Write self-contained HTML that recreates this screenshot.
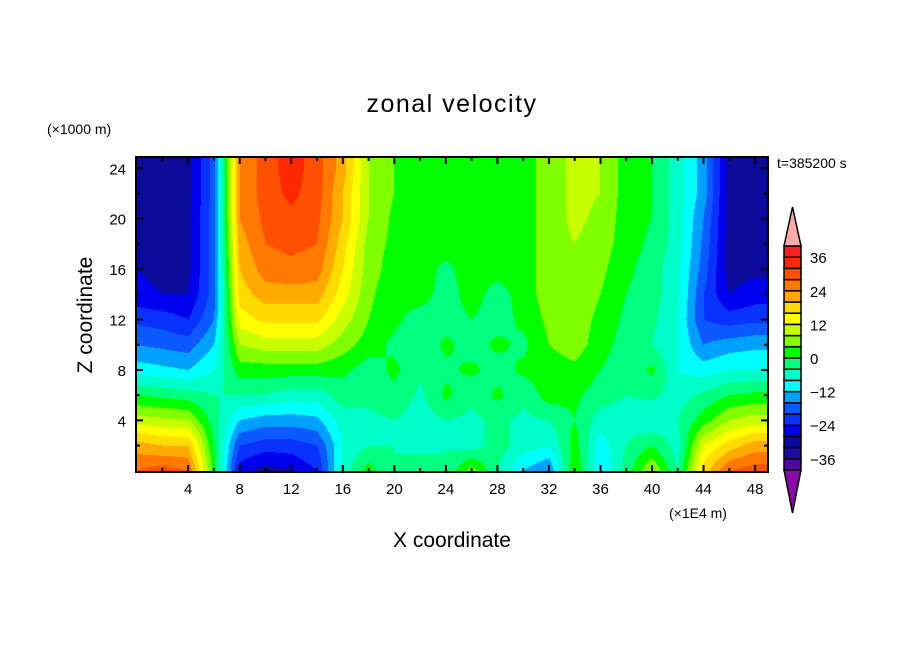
<!DOCTYPE html>
<html><head><meta charset="utf-8"><style>
body{margin:0;background:#fff;width:904px;height:654px;overflow:hidden;font-family:"Liberation Sans",sans-serif}
svg text{font-family:"Liberation Sans",sans-serif}
</style></head><body>
<svg id="chart" width="904" height="654" xmlns="http://www.w3.org/2000/svg">
<foreignObject x="136" y="157" width="632" height="315"><canvas id="cv" xmlns="http://www.w3.org/1999/xhtml" width="632" height="315"></canvas></foreignObject>
<g id="axes"></g>
</svg>
<script>
const xCoords=[0,2,4,6,8,10,12,14,16,18,20,22,24,26,28,30,32,34,36,38,40,42,44,46,48,50];
const zCoords=[24,22,20,18,16,14,12,10,8,6,4,2,0];
const grid=[
[-30,-32,-30,-18,24,30,34,30,22,8,4,2,2,2,2,2,6,9,8,2,0,-6,-14,-30,-30,-30],
[-30,-31,-30,-18,24,30,33,30,20,8,4,2,2,2,2,2,6,9,8,2,0,-6,-14,-30,-30,-30],
[-29,-30,-29,-18,24,29,31,29,20,8,3,2,2,2,2,2,6,9,7,2,0,-6,-16,-30,-30,-30],
[-29,-30,-29,-18,22,28,29,28,18,6,3,2,2,2,2,2,6,8,6,2,-1,-6,-17,-30,-30,-30],
[-28,-29,-29,-18,20,26,27,26,16,6,2,2,-1,2,2,2,6,8,5,1,-2,-7,-18,-30,-29,-29],
[-27,-28,-28,-18,18,22,22,22,14,5,1,2,-2,2,-2,2,6,7,4,0,-2,-7,-20,-28,-26,-26],
[-21,-22,-24,-16,14,17,17,17,10,4,1,-2,-2,0,-2,1,5,6,3,-1,-3,-8,-20,-22,-21,-21],
[-16,-17,-18,-12,8,10,10,10,6,2,-1,-3,1,-2,1,-1,4,6,2,-2,-4,-8,-16,-14,-13,-13],
[-10,-11,-12,-8,2,2,2,2,1,-2,1,-3,-1,1,-2,1,2,3,0,-3,1,-8,-10,-8,-8,-8],
[0,-1,-2,-4,-4,-4,-6,-6,-2,-3,-1,-5,1,-3,1,-3,2,1,-2,-4,-3,-6,-3,0,1,1],
[10,9,8,-2,-12,-14,-14,-13,-6,-5,-4,-6,-4,-5,-3,-5,-4,0,-6,-6,-8,-4,2,8,10,10],
[22,20,20,0,-20,-22,-22,-20,-8,-4,-4,-6,-4,-6,-2,-6,-8,2,-10,-4,0,-6,12,18,22,22],
[28,30,28,2,-26,-30,-28,-24,-6,2,-4,0,-4,6,-4,-12,-16,4,-12,-2,8,-4,18,28,30,30]];
const levels=[-40,-36,-32,-28,-24,-20,-16,-12,-8,-4,0,4,8,12,16,20,24,28,32,36,40];
const colors=["#4b0aa0","#1e0aa0","#0a0a9b","#0000f0","#0a32ff","#0a5aff","#00a0ff","#00ffff","#00ffc8","#00ff80","#00ff00","#80ff00","#c8ff00","#ffff00","#ffdc00","#ffaa00","#ff7800","#ff5000","#ff2800","#ff2020"];
const cbLabels=[36,24,12,0,-12,-24,-36];
const xTicks=[4,8,12,16,20,24,28,32,36,40,44,48];
const zTicks=[4,8,12,16,20,24];
const X0=136,X1=768,Y0=157,Y1=472,xMin=-0.05,xMax=49,zMin=-0.1,zMax=24.9;
const sx=v=>X0+(v-xMin)/(xMax-xMin)*(X1-X0);
const sz=v=>Y1-(v-zMin)/(zMax-zMin)*(Y1-Y0);
function val(x,z){
  let i=0;while(i<xCoords.length-2&&x>xCoords[i+1])i++;
  let tx=(x-xCoords[i])/(xCoords[i+1]-xCoords[i]);tx=Math.max(0,Math.min(1,tx));
  let j=0;while(j<zCoords.length-2&&z<zCoords[j+1])j++;
  let tz=(zCoords[j]-z)/(zCoords[j]-zCoords[j+1]);tz=Math.max(0,Math.min(1,tz));
  const a=grid[j][i],b=grid[j][i+1],c=grid[j+1][i],d=grid[j+1][i+1];
  return (a*(1-tx)+b*tx)*(1-tz)+(c*(1-tx)+d*tx)*tz;
}
function colorOf(v){for(let k=0;k<colors.length;k++){if(v<levels[k+1])return colors[k];}return colors[colors.length-1];}
const ctx=document.getElementById('cv').getContext('2d');
for(let py=0;py<315;py+=1){for(let px=0;px<632;px+=1){
  const x=xMin+(px+0.5)/632*(xMax-xMin);const z=zMax-(py+0.5)/315*(zMax-zMin);
  ctx.fillStyle=colorOf(val(x,z));ctx.fillRect(px,py,1,1);}}
const NS="http://www.w3.org/2000/svg";const g=document.getElementById('axes');
function el(t,a,txt){const e=document.createElementNS(NS,t);for(const k in a)e.setAttribute(k,a[k]);if(txt!==undefined)e.textContent=txt;g.appendChild(e);return e;}
let e;
e=el('rect',{x:X0,y:Y0,width:X1-X0,height:Y1-Y0,fill:'none',stroke:'#000','stroke-width':2});


for(let v=2;v<49;v+=2){const L=(v%4===0)?7:4;const x=sx(v);
  el('line',{x1:x,y1:Y1,x2:x,y2:Y1-L,stroke:'#000','stroke-width':2});
  el('line',{x1:x,y1:Y0,x2:x,y2:Y0+L,stroke:'#000','stroke-width':2});}
for(let v=2;v<25;v+=2){const L=(v%4===0)?7:4;const y=sz(v);
  el('line',{x1:X0,y1:y,x2:X0+L,y2:y,stroke:'#000','stroke-width':2});
  el('line',{x1:X1,y1:y,x2:X1-L,y2:y,stroke:'#000','stroke-width':2});}
xTicks.forEach(v=>{e=el('text',{x:sx(v),y:494,'font-size':15,'text-anchor':'middle'},String(v));
  
  });
zTicks.forEach(v=>{e=el('text',{x:126,y:sz(v)+6,'font-size':15,'text-anchor':'end'},String(v));
  
  });
const CB0=246,CB1=470,CBX=784,CBW=17;const bh=(CB1-CB0)/colors.length;
colors.forEach((c,k)=>{e=el('rect',{x:CBX,y:CB1-(k+1)*bh,width:CBW,height:bh,fill:c,stroke:'#000','stroke-width':1.5});
  
  });
e=el('polygon',{points:`${CBX},${CB0} ${CBX+CBW},${CB0} ${CBX+CBW/2},207`,fill:'#ffaaaa',stroke:'#000','stroke-width':1.5});


e=el('polygon',{points:`${CBX},${CB1} ${CBX+CBW},${CB1} ${CBX+CBW/2},513`,fill:'#8c0aaa',stroke:'#000','stroke-width':1.5});


cbLabels.forEach(v=>{const k=levels.indexOf(v);const y=CB1-k*bh;
  e=el('text',{x:810,y:y+6,'font-size':15},String(v).replace('-','\u2212'));
  
  });
</script>
<svg style="position:absolute;left:0;top:0" width="904" height="654" xmlns="http://www.w3.org/2000/svg">
<text x="452" y="112" font-size="25" text-anchor="middle" letter-spacing="1.5">zonal velocity</text>
<text x="47" y="134" font-size="14">(×1000 m)</text>
<text x="777" y="168" font-size="14">t=385200 s</text>
<text x="669" y="518" font-size="14">(×1E4 m)</text>
<text x="452" y="547" font-size="21" text-anchor="middle">X coordinate</text>
<text x="92" y="315" font-size="21" text-anchor="middle" transform="rotate(-90 92 315)">Z coordinate</text>
</svg>
</body></html>
